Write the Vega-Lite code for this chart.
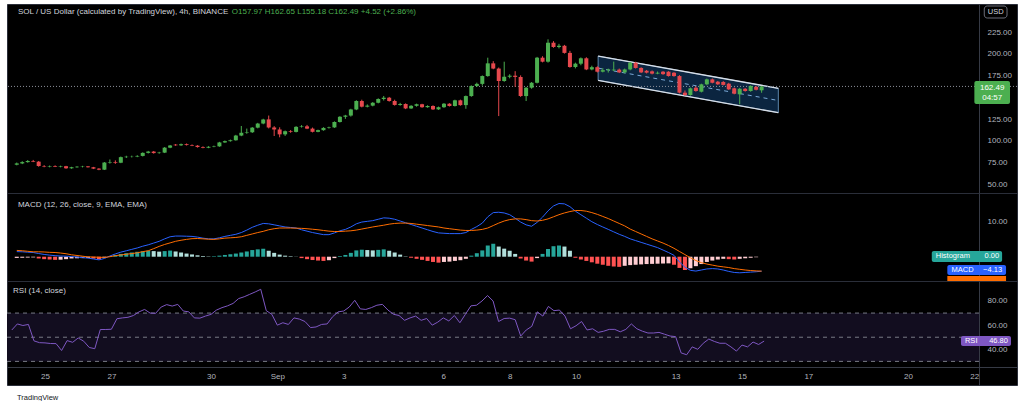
{
"$schema":"https://vega.github.io/schema/vega-lite/v6.json",
"background":"#ffffff",
"padding":{"left":6,"top":3,"right":8,"bottom":0},
"config":{"font":"Liberation Sans","view":{"fill":"#000000","stroke":"#2a2e39","strokeWidth":1},"axis":{"grid":false,"ticks":false,"domainColor":"#363a45","labelColor":"#b2b5be","labelFontSize":8,"labelFont":"Liberation Sans","labelOverlap":false}},
"title":{"text":"TradingView","orient":"bottom","anchor":"start","fontSize":7.5,"font":"Liberation Sans","color":"#131722","fontWeight":"normal","offset":8,"dx":11,"baseline":"top"},
"datasets":{
"k":[
{"t":"2021-08-24T00:00:00Z","o":72.5,"h":75,"l":71.8,"c":74,"hi":-0.35,"m":1.45,"s":1.8,"r":56},
{"t":"2021-08-24T04:00:00Z","o":74,"h":76.5,"l":73.2,"c":75.5,"hi":-0.3,"m":1.4,"s":1.7,"r":61},
{"t":"2021-08-24T08:00:00Z","o":75.5,"h":77.8,"l":74.8,"c":76.8,"hi":-0.25,"m":1.3,"s":1.55,"r":59.7},
{"t":"2021-08-24T12:00:00Z","o":76.8,"h":78,"l":75.5,"c":76,"hi":-0.2,"m":1.2,"s":1.4,"r":60.6},
{"t":"2021-08-24T16:00:00Z","o":76,"h":76.8,"l":70.2,"c":71,"hi":-0.5,"m":0.9,"s":1.4,"r":47},
{"t":"2021-08-24T20:00:00Z","o":71,"h":72,"l":69.6,"c":70.4,"hi":-0.7,"m":0.65,"s":1.35,"r":45.5},
{"t":"2021-08-25T00:00:00Z","o":70.4,"h":71.6,"l":69.5,"c":71,"hi":-0.8,"m":0.45,"s":1.25,"r":45.3},
{"t":"2021-08-25T04:00:00Z","o":71,"h":71.8,"l":69.8,"c":70.2,"hi":-0.9,"m":0.3,"s":1.2,"r":44.8},
{"t":"2021-08-25T08:00:00Z","o":70.2,"h":71.4,"l":69.5,"c":70.8,"hi":-0.85,"m":0.2,"s":1.05,"r":44.7},
{"t":"2021-08-25T12:00:00Z","o":70.8,"h":71.2,"l":67.8,"c":68.4,"hi":-0.7,"m":0.15,"s":0.85,"r":39},
{"t":"2021-08-25T16:00:00Z","o":68.4,"h":70.1,"l":67.9,"c":69.6,"hi":-0.5,"m":0.05,"s":0.55,"r":47.2},
{"t":"2021-08-25T20:00:00Z","o":69.6,"h":70.9,"l":69,"c":70.2,"hi":-0.45,"m":-0.1,"s":0.35,"r":45.8},
{"t":"2021-08-26T00:00:00Z","o":70.2,"h":71.2,"l":69.4,"c":70.6,"hi":-0.4,"m":-0.25,"s":0.15,"r":49.4},
{"t":"2021-08-26T04:00:00Z","o":70.6,"h":71,"l":69.2,"c":69.6,"hi":-0.35,"m":-0.4,"s":-0.05,"r":46.7},
{"t":"2021-08-26T08:00:00Z","o":69.6,"h":70,"l":67.5,"c":68,"hi":-0.55,"m":-0.65,"s":-0.1,"r":41.5},
{"t":"2021-08-26T12:00:00Z","o":68,"h":68.6,"l":66.2,"c":66.8,"hi":-0.75,"m":-0.9,"s":-0.15,"r":40.5},
{"t":"2021-08-26T16:00:00Z","o":66.8,"h":75.6,"l":66.4,"c":75,"hi":-0.3,"m":-0.5,"s":-0.2,"r":56.4},
{"t":"2021-08-26T20:00:00Z","o":75,"h":78.5,"l":73.8,"c":75.6,"hi":0.2,"m":0.2,"s":0,"r":56.4},
{"t":"2021-08-27T00:00:00Z","o":75.6,"h":77.5,"l":73.5,"c":74.8,"hi":0.5,"m":0.8,"s":0.3,"r":56.6},
{"t":"2021-08-27T04:00:00Z","o":74.8,"h":81.9,"l":74.3,"c":81.2,"hi":0.8,"m":1.3,"s":0.5,"r":65.3},
{"t":"2021-08-27T08:00:00Z","o":81.2,"h":82.8,"l":80.2,"c":81.7,"hi":1.0,"m":1.7,"s":0.7,"r":66},
{"t":"2021-08-27T12:00:00Z","o":81.7,"h":82.9,"l":80.8,"c":81.9,"hi":1.2,"m":2.1,"s":0.9,"r":66.5},
{"t":"2021-08-27T16:00:00Z","o":81.9,"h":83.4,"l":81.2,"c":82.6,"hi":1.4,"m":2.5,"s":1.1,"r":68},
{"t":"2021-08-27T20:00:00Z","o":82.6,"h":86.7,"l":82,"c":86.1,"hi":1.55,"m":3.0,"s":1.45,"r":71},
{"t":"2021-08-28T00:00:00Z","o":86.1,"h":88.4,"l":85.4,"c":87.6,"hi":1.7,"m":3.4,"s":1.7,"r":73},
{"t":"2021-08-28T04:00:00Z","o":87.6,"h":88.3,"l":85.2,"c":85.9,"hi":1.6,"m":3.9,"s":2.3,"r":70},
{"t":"2021-08-28T08:00:00Z","o":85.9,"h":87.3,"l":85.1,"c":86.4,"hi":1.45,"m":4.4,"s":2.95,"r":69.8},
{"t":"2021-08-28T12:00:00Z","o":86.4,"h":92.8,"l":85.9,"c":92.1,"hi":1.6,"m":5.1,"s":3.5,"r":75},
{"t":"2021-08-28T16:00:00Z","o":92.1,"h":95.2,"l":91.5,"c":94.6,"hi":1.75,"m":5.7,"s":3.95,"r":77},
{"t":"2021-08-28T20:00:00Z","o":95.6,"h":96.3,"l":94.2,"c":94.8,"hi":1.5,"m":5.9,"s":4.4,"r":75.8},
{"t":"2021-08-29T00:00:00Z","o":94.8,"h":96.8,"l":94.1,"c":96.1,"hi":1.2,"m":5.9,"s":4.7,"r":77.2},
{"t":"2021-08-29T04:00:00Z","o":96.1,"h":96.9,"l":94.6,"c":95.1,"hi":0.9,"m":5.85,"s":4.95,"r":71.7},
{"t":"2021-08-29T08:00:00Z","o":95.1,"h":95.8,"l":93.9,"c":94.4,"hi":0.65,"m":5.8,"s":5.15,"r":71},
{"t":"2021-08-29T12:00:00Z","o":94.4,"h":95,"l":92.2,"c":92.8,"hi":0.4,"m":5.6,"s":5.2,"r":66},
{"t":"2021-08-29T16:00:00Z","o":92.8,"h":93.6,"l":91.4,"c":92,"hi":0.2,"m":5.3,"s":5.1,"r":65.8},
{"t":"2021-08-29T20:00:00Z","o":92,"h":93.8,"l":91.5,"c":93.1,"hi":0.1,"m":5.1,"s":5.0,"r":67.5},
{"t":"2021-08-30T00:00:00Z","o":93.1,"h":94.4,"l":92.6,"c":93.6,"hi":0.15,"m":5.1,"s":4.95,"r":68.9},
{"t":"2021-08-30T04:00:00Z","o":93.6,"h":98.8,"l":93.1,"c":98.1,"hi":0.3,"m":5.4,"s":5.1,"r":72.5},
{"t":"2021-08-30T08:00:00Z","o":98.1,"h":100.3,"l":97.6,"c":99.6,"hi":0.5,"m":5.8,"s":5.3,"r":74.5},
{"t":"2021-08-30T12:00:00Z","o":99.6,"h":101.4,"l":99,"c":100.6,"hi":0.7,"m":6.1,"s":5.4,"r":76},
{"t":"2021-08-30T16:00:00Z","o":100.6,"h":106.8,"l":100.1,"c":106,"hi":0.9,"m":6.4,"s":5.5,"r":78},
{"t":"2021-08-30T20:00:00Z","o":106,"h":117,"l":105.3,"c":109.2,"hi":1.2,"m":6.9,"s":5.7,"r":82},
{"t":"2021-08-31T00:00:00Z","o":109.2,"h":114,"l":108.1,"c":109.8,"hi":1.5,"m":7.6,"s":6.1,"r":83.5},
{"t":"2021-08-31T04:00:00Z","o":109.8,"h":115.8,"l":109,"c":115.1,"hi":1.9,"m":8.4,"s":6.5,"r":85.5},
{"t":"2021-08-31T08:00:00Z","o":115.1,"h":120.6,"l":114.3,"c":119.8,"hi":2.1,"m":9.0,"s":6.9,"r":87.5},
{"t":"2021-08-31T12:00:00Z","o":119.8,"h":125.3,"l":119,"c":124.6,"hi":2.25,"m":9.5,"s":7.25,"r":89.7},
{"t":"2021-08-31T16:00:00Z","o":124.6,"h":129,"l":114.2,"c":115.3,"hi":1.7,"m":9.4,"s":7.7,"r":72},
{"t":"2021-08-31T20:00:00Z","o":115.3,"h":116.8,"l":105.5,"c":113,"hi":1.1,"m":9.1,"s":8.0,"r":69},
{"t":"2021-09-01T00:00:00Z","o":113,"h":115.5,"l":104,"c":107.4,"hi":0.6,"m":8.8,"s":8.2,"r":60},
{"t":"2021-09-01T04:00:00Z","o":107.4,"h":111.8,"l":105.6,"c":111,"hi":0.3,"m":8.5,"s":8.2,"r":62},
{"t":"2021-09-01T08:00:00Z","o":111,"h":112.3,"l":109.2,"c":110.2,"hi":0.15,"m":8.35,"s":8.2,"r":60.6},
{"t":"2021-09-01T12:00:00Z","o":110.2,"h":116.8,"l":109.6,"c":116,"hi":0.05,"m":8.2,"s":8.15,"r":66},
{"t":"2021-09-01T16:00:00Z","o":116,"h":118,"l":115.2,"c":116.6,"hi":-0.4,"m":7.7,"s":8.1,"r":65},
{"t":"2021-09-01T20:00:00Z","o":116.6,"h":118.2,"l":113.4,"c":114,"hi":-0.7,"m":7.3,"s":8.0,"r":63},
{"t":"2021-09-02T00:00:00Z","o":114,"h":115.2,"l":109.6,"c":110.3,"hi":-0.95,"m":6.9,"s":7.85,"r":58},
{"t":"2021-09-02T04:00:00Z","o":110.3,"h":112.8,"l":109.8,"c":112.2,"hi":-1.1,"m":6.6,"s":7.7,"r":58.5},
{"t":"2021-09-02T08:00:00Z","o":112.2,"h":115.6,"l":111.6,"c":114.8,"hi":-1.2,"m":6.3,"s":7.5,"r":60.6},
{"t":"2021-09-02T12:00:00Z","o":114.8,"h":116.2,"l":114,"c":115.4,"hi":-1.0,"m":6.3,"s":7.3,"r":61},
{"t":"2021-09-02T16:00:00Z","o":115.4,"h":122.3,"l":114.8,"c":121.6,"hi":-0.4,"m":6.8,"s":7.2,"r":67},
{"t":"2021-09-02T20:00:00Z","o":121.6,"h":128.3,"l":121,"c":127.6,"hi":0.2,"m":7.4,"s":7.2,"r":71},
{"t":"2021-09-03T00:00:00Z","o":127.6,"h":129.8,"l":125.2,"c":129,"hi":0.5,"m":7.8,"s":7.3,"r":71.7},
{"t":"2021-09-03T04:00:00Z","o":129,"h":136.8,"l":127.8,"c":136,"hi":1.1,"m":8.5,"s":7.4,"r":75},
{"t":"2021-09-03T08:00:00Z","o":136,"h":146.6,"l":135.2,"c":145.7,"hi":1.8,"m":9.4,"s":7.6,"r":80.6},
{"t":"2021-09-03T12:00:00Z","o":145.7,"h":147.2,"l":138.4,"c":139.2,"hi":2.0,"m":9.9,"s":7.9,"r":73.5},
{"t":"2021-09-03T16:00:00Z","o":139.2,"h":141.8,"l":138.4,"c":140.4,"hi":1.9,"m":10.1,"s":8.2,"r":73},
{"t":"2021-09-03T20:00:00Z","o":140.4,"h":144.5,"l":139.6,"c":143.7,"hi":1.8,"m":10.3,"s":8.5,"r":74.5},
{"t":"2021-09-04T00:00:00Z","o":143.7,"h":148.8,"l":143,"c":148,"hi":1.95,"m":10.7,"s":8.75,"r":76.5},
{"t":"2021-09-04T04:00:00Z","o":148,"h":151.5,"l":146.3,"c":149.5,"hi":2.1,"m":11.1,"s":9.0,"r":77.2},
{"t":"2021-09-04T08:00:00Z","o":149.5,"h":150.4,"l":145,"c":145.7,"hi":1.7,"m":11.0,"s":9.3,"r":72.5},
{"t":"2021-09-04T12:00:00Z","o":145.7,"h":147.2,"l":140.4,"c":141.2,"hi":1.2,"m":10.7,"s":9.5,"r":69},
{"t":"2021-09-04T16:00:00Z","o":141.2,"h":143.6,"l":140.3,"c":142.3,"hi":0.6,"m":10.2,"s":9.6,"r":68},
{"t":"2021-09-04T20:00:00Z","o":142.3,"h":143,"l":136.4,"c":137.2,"hi":0.1,"m":9.7,"s":9.6,"r":64},
{"t":"2021-09-05T00:00:00Z","o":137.2,"h":141,"l":136.6,"c":140.2,"hi":-0.3,"m":9.2,"s":9.5,"r":66},
{"t":"2021-09-05T04:00:00Z","o":140.2,"h":142.7,"l":139.2,"c":142,"hi":-0.6,"m":8.7,"s":9.3,"r":67.5},
{"t":"2021-09-05T08:00:00Z","o":142,"h":142.5,"l":137.9,"c":138.6,"hi":-0.9,"m":8.2,"s":9.1,"r":64},
{"t":"2021-09-05T12:00:00Z","o":138.6,"h":140.8,"l":138,"c":140,"hi":-1.2,"m":7.7,"s":8.9,"r":65.5},
{"t":"2021-09-05T16:00:00Z","o":140,"h":140.8,"l":135.4,"c":136.1,"hi":-1.5,"m":7.2,"s":8.7,"r":60},
{"t":"2021-09-05T20:00:00Z","o":136.1,"h":139.3,"l":135.5,"c":138.6,"hi":-1.7,"m":6.8,"s":8.5,"r":62.5},
{"t":"2021-09-06T00:00:00Z","o":138.6,"h":143.4,"l":137.8,"c":142.6,"hi":-1.5,"m":6.7,"s":8.2,"r":66},
{"t":"2021-09-06T04:00:00Z","o":142.6,"h":143.2,"l":139.4,"c":140,"hi":-1.4,"m":6.6,"s":8.0,"r":63.5},
{"t":"2021-09-06T08:00:00Z","o":140,"h":147.2,"l":139.4,"c":146.5,"hi":-1.2,"m":6.6,"s":7.8,"r":68},
{"t":"2021-09-06T12:00:00Z","o":146.5,"h":147.3,"l":140.3,"c":141,"hi":-1.0,"m":6.6,"s":7.6,"r":62},
{"t":"2021-09-06T16:00:00Z","o":141,"h":152,"l":136.8,"c":151.4,"hi":-0.6,"m":6.9,"s":7.5,"r":69},
{"t":"2021-09-06T20:00:00Z","o":151.4,"h":163.7,"l":150.6,"c":163,"hi":0.3,"m":7.8,"s":7.5,"r":76},
{"t":"2021-09-07T00:00:00Z","o":163,"h":166.8,"l":161.8,"c":165.4,"hi":1.0,"m":8.6,"s":7.6,"r":76.5},
{"t":"2021-09-07T04:00:00Z","o":165.4,"h":175.1,"l":163.4,"c":174.4,"hi":1.8,"m":9.6,"s":7.8,"r":80},
{"t":"2021-09-07T08:00:00Z","o":174.4,"h":195.5,"l":173.6,"c":189,"hi":3.2,"m":11.4,"s":8.2,"r":84.5},
{"t":"2021-09-07T12:00:00Z","o":189,"h":191.5,"l":182.2,"c":183,"hi":3.7,"m":12.6,"s":8.9,"r":80},
{"t":"2021-09-07T16:00:00Z","o":183,"h":184.2,"l":128.4,"c":168.7,"hi":2.9,"m":12.7,"s":9.6,"r":63},
{"t":"2021-09-07T20:00:00Z","o":168.7,"h":190.9,"l":167.8,"c":173.6,"hi":2.3,"m":12.5,"s":10.2,"r":65.5},
{"t":"2021-09-08T00:00:00Z","o":173.6,"h":176.5,"l":171.8,"c":174.8,"hi":1.7,"m":12.0,"s":10.6,"r":65.8},
{"t":"2021-09-08T04:00:00Z","o":174.8,"h":180,"l":162,"c":173.4,"hi":0.8,"m":11.0,"s":10.8,"r":64.5},
{"t":"2021-09-08T08:00:00Z","o":173.4,"h":175.2,"l":150.4,"c":151.4,"hi":-0.5,"m":9.9,"s":10.8,"r":51},
{"t":"2021-09-08T12:00:00Z","o":151.4,"h":161.8,"l":145.7,"c":161,"hi":-1.1,"m":9.1,"s":10.6,"r":56},
{"t":"2021-09-08T16:00:00Z","o":161,"h":167.5,"l":159.8,"c":166.7,"hi":-1.4,"m":8.7,"s":10.3,"r":59},
{"t":"2021-09-08T20:00:00Z","o":166.7,"h":196.4,"l":165.9,"c":195.5,"hi":-0.4,"m":9.8,"s":10.2,"r":71},
{"t":"2021-09-09T00:00:00Z","o":195.5,"h":197.2,"l":190.1,"c":190.9,"hi":0.8,"m":11.3,"s":10.4,"r":67.5},
{"t":"2021-09-09T04:00:00Z","o":190.9,"h":216.6,"l":189.8,"c":212.7,"hi":2.2,"m":13.1,"s":10.8,"r":75.5},
{"t":"2021-09-09T08:00:00Z","o":212.7,"h":214.5,"l":206.9,"c":207.8,"hi":3.0,"m":14.5,"s":11.4,"r":72},
{"t":"2021-09-09T12:00:00Z","o":207.8,"h":211.4,"l":206.2,"c":209.2,"hi":3.2,"m":15.2,"s":12.0,"r":72.5},
{"t":"2021-09-09T16:00:00Z","o":209.2,"h":210.2,"l":200.2,"c":201,"hi":2.9,"m":15.1,"s":12.5,"r":67.5},
{"t":"2021-09-09T20:00:00Z","o":201,"h":203.4,"l":184,"c":184.8,"hi":1.7,"m":14.3,"s":12.9,"r":57},
{"t":"2021-09-10T00:00:00Z","o":184.8,"h":189.8,"l":183.2,"c":188.6,"hi":-0.3,"m":13.0,"s":13.2,"r":59.5},
{"t":"2021-09-10T04:00:00Z","o":188.6,"h":195.8,"l":186.8,"c":194.8,"hi":-0.8,"m":12.0,"s":13.2,"r":63},
{"t":"2021-09-10T08:00:00Z","o":194.8,"h":196,"l":181.2,"c":182,"hi":-1.2,"m":11.0,"s":13.0,"r":56},
{"t":"2021-09-10T12:00:00Z","o":182,"h":186.3,"l":181,"c":184.6,"hi":-1.6,"m":10.0,"s":12.6,"r":57},
{"t":"2021-09-10T16:00:00Z","o":184.6,"h":185.7,"l":178.5,"c":179.4,"hi":-2.0,"m":9.2,"s":12.1,"r":54},
{"t":"2021-09-10T20:00:00Z","o":179.4,"h":183.6,"l":178.6,"c":181.2,"hi":-2.3,"m":8.5,"s":11.5,"r":55},
{"t":"2021-09-11T00:00:00Z","o":181.2,"h":182.9,"l":178.4,"c":182,"hi":-2.6,"m":7.8,"s":10.9,"r":56.5},
{"t":"2021-09-11T04:00:00Z","o":181,"h":191,"l":180,"c":181.8,"hi":-2.8,"m":7.1,"s":10.2,"r":56.5},
{"t":"2021-09-11T08:00:00Z","o":181.8,"h":183,"l":177.8,"c":178.6,"hi":-2.9,"m":6.4,"s":9.5,"r":54.5},
{"t":"2021-09-11T12:00:00Z","o":178.6,"h":183,"l":177.6,"c":182,"hi":-2.6,"m":5.8,"s":8.8,"r":56.5},
{"t":"2021-09-11T16:00:00Z","o":182,"h":190.6,"l":181,"c":189.7,"hi":-2.4,"m":5.1,"s":7.9,"r":61},
{"t":"2021-09-11T20:00:00Z","o":189.7,"h":190.8,"l":183,"c":183.7,"hi":-2.3,"m":4.6,"s":7.2,"r":57},
{"t":"2021-09-12T00:00:00Z","o":183.7,"h":184.5,"l":177.8,"c":178.6,"hi":-2.2,"m":4.1,"s":6.5,"r":55},
{"t":"2021-09-12T04:00:00Z","o":180.5,"h":181.4,"l":177.4,"c":178.3,"hi":-2.1,"m":3.6,"s":5.8,"r":53.5},
{"t":"2021-09-12T08:00:00Z","o":179.8,"h":180.8,"l":176.3,"c":177.2,"hi":-2.05,"m":3.1,"s":5.1,"r":53.5},
{"t":"2021-09-12T12:00:00Z","o":177.2,"h":179.6,"l":176.5,"c":178.2,"hi":-2.0,"m":2.6,"s":4.5,"r":54},
{"t":"2021-09-12T16:00:00Z","o":179.4,"h":180.2,"l":175.8,"c":176.6,"hi":-1.95,"m":1.9,"s":3.9,"r":52.5},
{"t":"2021-09-12T20:00:00Z","o":179.4,"h":180,"l":173.8,"c":174.4,"hi":-1.9,"m":1.2,"s":3.2,"r":51},
{"t":"2021-09-13T00:00:00Z","o":178.2,"h":179,"l":173.6,"c":174.4,"hi":-2.3,"m":0.4,"s":2.4,"r":50.5},
{"t":"2021-09-13T04:00:00Z","o":174.4,"h":175.5,"l":154.5,"c":155.3,"hi":-3.2,"m":-1.5,"s":1.5,"r":37},
{"t":"2021-09-13T08:00:00Z","o":155.3,"h":157.8,"l":151.6,"c":152.6,"hi":-3.8,"m":-3.0,"s":0.6,"r":35.5},
{"t":"2021-09-13T12:00:00Z","o":152.6,"h":161.2,"l":151.8,"c":160.3,"hi":-3.3,"m":-3.9,"s":-0.3,"r":42},
{"t":"2021-09-13T16:00:00Z","o":161,"h":162.6,"l":156.4,"c":157.2,"hi":-2.7,"m":-4.1,"s":-1.1,"r":40},
{"t":"2021-09-13T20:00:00Z","o":156.4,"h":165.6,"l":155.6,"c":164.9,"hi":-2.1,"m":-3.8,"s":-1.7,"r":45},
{"t":"2021-09-14T00:00:00Z","o":164.9,"h":171.5,"l":163.8,"c":170.6,"hi":-1.5,"m":-3.5,"s":-2.1,"r":48.5},
{"t":"2021-09-14T04:00:00Z","o":170.6,"h":171.6,"l":166,"c":166.7,"hi":-1.1,"m":-3.4,"s":-2.4,"r":46.5},
{"t":"2021-09-14T08:00:00Z","o":167.9,"h":168.8,"l":164.2,"c":164.9,"hi":-0.8,"m":-3.5,"s":-2.7,"r":45},
{"t":"2021-09-14T12:00:00Z","o":167.6,"h":168.6,"l":163.6,"c":164.2,"hi":-0.6,"m":-3.8,"s":-2.9,"r":45},
{"t":"2021-09-14T16:00:00Z","o":165.6,"h":166.6,"l":158.5,"c":159.1,"hi":-0.7,"m":-4.2,"s":-3.1,"r":42},
{"t":"2021-09-14T20:00:00Z","o":160.3,"h":161.2,"l":153.4,"c":154.1,"hi":-0.8,"m":-4.5,"s":-3.4,"r":38.5},
{"t":"2021-09-15T00:00:00Z","o":153.4,"h":160.8,"l":141.9,"c":159.8,"hi":-0.6,"m":-4.6,"s":-3.6,"r":43.5},
{"t":"2021-09-15T04:00:00Z","o":159.8,"h":160.6,"l":156.5,"c":157.2,"hi":-0.45,"m":-4.5,"s":-3.8,"r":42},
{"t":"2021-09-15T08:00:00Z","o":157.2,"h":163.8,"l":156.4,"c":163,"hi":-0.3,"m":-4.4,"s":-3.95,"r":46},
{"t":"2021-09-15T12:00:00Z","o":162,"h":163.1,"l":157.9,"c":158.6,"hi":-0.15,"m":-4.3,"s":-4.05,"r":44},
{"t":"2021-09-15T16:00:00Z","o":157.97,"h":162.65,"l":155.18,"c":162.49,"hi":0,"m":-4.13,"s":-4.13,"r":46.8}
],
"ch":[{"t":"2021-09-10T16:36:00Z","top":197.4,"mid":183.45,"bot":169.5},{"t":"2021-09-16T04:12:00Z","top":160.3,"mid":146.3,"bot":132.3}],
"lv":[{"v":70},{"v":50},{"v":30}],
"one":[{}]
},
"data":{"name":"k"},
"spacing":0,
"bounds":"flush",
"resolve":{"scale":{"x":"independent","y":"independent"}},
"vconcat":[
{"width":1010,"height":189,"resolve":{"scale":{"y":"independent"},"axis":{"y":"independent"}},"layer":[
{"layer":[
{"data":{"name":"ch"},"mark":{"type":"area","fill":"#0b2540","stroke":"#5d86ad","strokeWidth":1},"encoding":{"x":{"field":"t","type":"temporal","scale":{"type":"utc","domain":[{"year":2021,"month":8,"date":23,"hours":20,"minutes":31,"utc":true},{"year":2021,"month":9,"date":23,"hours":6,"minutes":52,"utc":true}]},"axis":null},"y":{"field":"top","type":"quantitative","scale":{"domain":[40,257.2],"nice":false,"zero":false},"axis":null},"y2":{"field":"bot"}}},
{"data":{"name":"ch"},"mark":{"type":"line","color":"#d8dee6","strokeWidth":1.3},"encoding":{"x":{"field":"t","type":"temporal"},"y":{"field":"top","type":"quantitative"}}},
{"data":{"name":"ch"},"mark":{"type":"line","color":"#d8dee6","strokeWidth":1.3},"encoding":{"x":{"field":"t","type":"temporal"},"y":{"field":"bot","type":"quantitative"}}},
{"data":{"name":"ch"},"mark":{"type":"line","color":"#7aa9d8","strokeWidth":1,"strokeDash":[4,4]},"encoding":{"x":{"field":"t","type":"temporal"},"y":{"field":"mid","type":"quantitative"}}},
{"data":{"name":"one"},"mark":{"type":"rule","color":"#8c8f99","strokeDash":[1,2],"strokeWidth":1},"encoding":{"y":{"datum":162.49,"type":"quantitative"}}},
{"mark":{"type":"rule","strokeWidth":1},"encoding":{"x":{"field":"t","type":"temporal"},"y":{"field":"l","type":"quantitative"},"y2":{"field":"h"},"color":{"condition":{"test":"datum.c >= datum.o","value":"#4caf50"},"value":"#e5484d"}}},
{"mark":{"type":"bar","width":4},"encoding":{"x":{"field":"t","type":"temporal"},"y":{"field":"o","type":"quantitative"},"y2":{"field":"c"},"color":{"condition":{"test":"datum.c >= datum.o","value":"#4caf50"},"value":"#e5484d"}}},
{"data":{"name":"one"},"mark":{"type":"rect","color":"#4caf50","cornerRadius":2},"encoding":{"x":{"datum":{"year":2021,"month":9,"date":22,"hours":3,"minutes":23,"utc":true},"type":"temporal"},"x2":{"datum":{"year":2021,"month":9,"date":23,"hours":5,"minutes":25,"utc":true}},"y":{"datum":168.7,"type":"quantitative"},"y2":{"datum":142.3}}},
{"data":{"name":"one"},"mark":{"type":"text","text":"162.49","color":"#ffffff","fontSize":8,"align":"center","baseline":"middle"},"encoding":{"x":{"datum":{"year":2021,"month":9,"date":22,"hours":16,"minutes":24,"utc":true},"type":"temporal"},"y":{"datum":160.65,"type":"quantitative"}}},
{"data":{"name":"one"},"mark":{"type":"text","text":"04:57","color":"#ffffff","fontSize":8,"align":"center","baseline":"middle"},"encoding":{"x":{"datum":{"year":2021,"month":9,"date":22,"hours":16,"minutes":24,"utc":true},"type":"temporal"},"y":{"datum":149.2,"type":"quantitative"}}},
{"data":{"name":"one"},"mark":{"type":"rect","fill":"#000000","stroke":"#6a6d78","strokeWidth":1,"cornerRadius":3},"encoding":{"x":{"datum":{"year":2021,"month":9,"date":22,"hours":10,"minutes":37,"utc":true},"type":"temporal"},"x2":{"datum":{"year":2021,"month":9,"date":23,"hours":3,"minutes":14,"utc":true}},"y":{"datum":254.9,"type":"quantitative"},"y2":{"datum":241.1}}},
{"data":{"name":"one"},"mark":{"type":"text","text":"USD","color":"#d1d4dc","fontSize":7.5,"align":"center","baseline":"middle"},"encoding":{"x":{"datum":{"year":2021,"month":9,"date":22,"hours":18,"minutes":55,"utc":true},"type":"temporal"},"y":{"datum":248,"type":"quantitative"}}},
{"data":{"name":"one"},"mark":{"type":"text","text":"SOL / US Dollar (calculated by TradingView), 4h, BINANCE","color":"#d1d4dc","fontSize":8,"align":"left","baseline":"middle"},"encoding":{"x":{"datum":{"year":2021,"month":8,"date":24,"hours":0,"minutes":52,"utc":true},"type":"temporal"},"y":{"datum":248,"type":"quantitative"}}},
{"data":{"name":"one"},"mark":{"type":"text","text":"O157.97  H162.65  L155.18  C162.49  +4.52 (+2.86%)","color":"#4caf50","fontSize":8,"align":"left","baseline":"middle"},"encoding":{"x":{"datum":{"year":2021,"month":8,"date":30,"hours":13,"minutes":3,"utc":true},"type":"temporal"},"y":{"datum":248,"type":"quantitative"}}}
]},
{"data":{"name":"one"},"mark":{"type":"rule","opacity":0},"encoding":{"y":{"datum":100,"type":"quantitative","scale":{"domain":[40,257.2],"nice":false,"zero":false},"axis":{"title":null,"orient":"right","offset":-38,"values":[50,75,100,125,175,200,225],"format":".2f","labelPadding":8,"labelAlign":"left","labelBaseline":"middle","labelOverlap":false}}}}
]},
{"width":1010,"height":88,"layer":[
{"transform":[{"window":[{"op":"lag","field":"hi","as":"ph"}],"sort":[{"field":"t"}]},{"calculate":"datum.hi >= 0 ? ((datum.ph == null || datum.hi >= datum.ph) ? 'a' : 'b') : ((datum.ph != null && datum.hi < datum.ph) ? 'c' : 'd')","as":"hk"}],"mark":{"type":"bar","width":4},"encoding":{"x":{"field":"t","type":"temporal","scale":{"type":"utc","domain":[{"year":2021,"month":8,"date":23,"hours":20,"minutes":31,"utc":true},{"year":2021,"month":9,"date":23,"hours":6,"minutes":52,"utc":true}]},"axis":null},"y":{"field":"hi","type":"quantitative","stack":null,"scale":{"domain":[-6.94,18.2],"nice":false,"zero":false},"axis":{"title":null,"orient":"right","offset":-38,"values":[10],"format":".2f","labelPadding":8,"labelAlign":"left","labelOverlap":false}},"y2":{"datum":0},"color":{"field":"hk","type":"nominal","scale":{"domain":["a","b","c","d"],"range":["#26a69a","#b2dfdb","#ff5252","#ffcdd2"]},"legend":null}}},
{"mark":{"type":"line","color":"#2962ff","strokeWidth":1},"encoding":{"x":{"field":"t","type":"temporal"},"y":{"field":"m","type":"quantitative"}}},
{"mark":{"type":"line","color":"#ff6d00","strokeWidth":1},"encoding":{"x":{"field":"t","type":"temporal"},"y":{"field":"s","type":"quantitative"}}},
{"data":{"name":"one"},"mark":{"type":"rect","color":"#26a69a","cornerRadius":2},"encoding":{"x":{"datum":{"year":2021,"month":9,"date":20,"hours":20,"minutes":17,"utc":true},"type":"temporal"},"x2":{"datum":{"year":2021,"month":9,"date":22,"hours":23,"minutes":38,"utc":true}},"y":{"datum":1.63,"type":"quantitative"},"y2":{"datum":-1.51}}},
{"data":{"name":"one"},"mark":{"type":"text","text":"Histogram","color":"#ffffff","fontSize":7.5,"align":"left","baseline":"middle"},"encoding":{"x":{"datum":{"year":2021,"month":9,"date":20,"hours":23,"minutes":11,"utc":true},"type":"temporal"},"y":{"datum":0.06,"type":"quantitative"}}},
{"data":{"name":"one"},"mark":{"type":"text","text":"0.00","color":"#ffffff","fontSize":7.5,"align":"right","baseline":"middle"},"encoding":{"x":{"datum":{"year":2021,"month":9,"date":22,"hours":21,"minutes":27,"utc":true},"type":"temporal"},"y":{"datum":0.06,"type":"quantitative"}}},
{"data":{"name":"one"},"mark":{"type":"rect","color":"#ff6d00"},"encoding":{"x":{"datum":{"year":2021,"month":9,"date":21,"hours":7,"minutes":38,"utc":true},"type":"temporal"},"x2":{"datum":{"year":2021,"month":9,"date":23,"hours":2,"minutes":31,"utc":true}},"y":{"datum":-5.51,"type":"quantitative"},"y2":{"datum":-7.2}}},
{"data":{"name":"one"},"mark":{"type":"rect","color":"#2962ff","cornerRadius":2},"encoding":{"x":{"datum":{"year":2021,"month":9,"date":21,"hours":7,"minutes":38,"utc":true},"type":"temporal"},"x2":{"datum":{"year":2021,"month":9,"date":23,"hours":2,"minutes":31,"utc":true}},"y":{"datum":-2.37,"type":"quantitative"},"y2":{"datum":-5.23}}},
{"data":{"name":"one"},"mark":{"type":"text","text":"MACD","color":"#ffffff","fontSize":7.5,"align":"left","baseline":"middle"},"encoding":{"x":{"datum":{"year":2021,"month":9,"date":21,"hours":10,"minutes":43,"utc":true},"type":"temporal"},"y":{"datum":-3.8,"type":"quantitative"}}},
{"data":{"name":"one"},"mark":{"type":"text","text":"−4.13","color":"#ffffff","fontSize":7.5,"align":"right","baseline":"middle"},"encoding":{"x":{"datum":{"year":2021,"month":9,"date":22,"hours":23,"minutes":38,"utc":true},"type":"temporal"},"y":{"datum":-3.8,"type":"quantitative"}}},
{"data":{"name":"one"},"mark":{"type":"text","text":"MACD (12, 26, close, 9, EMA, EMA)","color":"#d1d4dc","fontSize":8,"align":"left","baseline":"middle"},"encoding":{"x":{"datum":{"year":2021,"month":8,"date":24,"hours":0,"minutes":52,"utc":true},"type":"temporal"},"y":{"datum":14.8,"type":"quantitative"}}}
]},
{"width":1010,"height":104,"layer":[
{"data":{"name":"one"},"mark":{"type":"rect","color":"#120d1f"},"encoding":{"x":{"datum":{"year":2021,"month":8,"date":23,"hours":20,"minutes":31,"utc":true},"type":"temporal"},"x2":{"datum":{"year":2021,"month":9,"date":22,"hours":3,"minutes":23,"utc":true}},"y":{"datum":70,"type":"quantitative"},"y2":{"datum":30}}},
{"data":{"name":"lv"},"mark":{"type":"rule","color":"#787b86","strokeDash":[4,4],"strokeWidth":1},"encoding":{"x":{"datum":{"year":2021,"month":8,"date":23,"hours":20,"minutes":31,"utc":true},"type":"temporal"},"x2":{"datum":{"year":2021,"month":9,"date":22,"hours":3,"minutes":23,"utc":true}},"y":{"field":"v","type":"quantitative"}}},
{"mark":{"type":"line","color":"#7e57c2","strokeWidth":1},"encoding":{"x":{"field":"t","type":"temporal","scale":{"type":"utc","domain":[{"year":2021,"month":8,"date":23,"hours":20,"minutes":31,"utc":true},{"year":2021,"month":9,"date":23,"hours":6,"minutes":52,"utc":true}]},"axis":{"title":null,"orient":"bottom","offset":-18,"values":[{"year":2021,"month":8,"date":25,"utc":true},{"year":2021,"month":8,"date":27,"utc":true},{"year":2021,"month":8,"date":30,"utc":true},{"year":2021,"month":9,"date":1,"utc":true},{"year":2021,"month":9,"date":3,"utc":true},{"year":2021,"month":9,"date":6,"utc":true},{"year":2021,"month":9,"date":8,"utc":true},{"year":2021,"month":9,"date":10,"utc":true},{"year":2021,"month":9,"date":13,"utc":true},{"year":2021,"month":9,"date":15,"utc":true},{"year":2021,"month":9,"date":17,"utc":true},{"year":2021,"month":9,"date":20,"utc":true},{"year":2021,"month":9,"date":22,"utc":true}],"labelExpr":"utcdate(datum.value) == 1 ? 'Sep' : '' + utcdate(datum.value)","labelPadding":5,"labelFlush":false,"labelOverlap":false,"labelBaseline":"top"}},"y":{"field":"r","type":"quantitative","scale":{"domain":[10.44,96.56],"nice":false,"zero":false},"axis":{"title":null,"orient":"right","offset":-38,"values":[40,60,80],"format":".2f","labelPadding":8,"labelAlign":"left","labelOverlap":false}}}},
{"data":{"name":"one"},"mark":{"type":"rect","color":"#7e57c2","cornerRadius":2},"encoding":{"x":{"datum":{"year":2021,"month":9,"date":21,"hours":14,"minutes":21,"utc":true},"type":"temporal"},"x2":{"datum":{"year":2021,"month":9,"date":23,"hours":2,"minutes":31,"utc":true}},"y":{"datum":51.0,"type":"quantitative"},"y2":{"datum":42.7}}},
{"data":{"name":"one"},"mark":{"type":"text","text":"RSI","color":"#ffffff","fontSize":7.5,"align":"left","baseline":"middle"},"encoding":{"x":{"datum":{"year":2021,"month":9,"date":21,"hours":17,"minutes":14,"utc":true},"type":"temporal"},"y":{"datum":46.9,"type":"quantitative"}}},
{"data":{"name":"one"},"mark":{"type":"text","text":"46.80","color":"#ffffff","fontSize":7.5,"align":"right","baseline":"middle"},"encoding":{"x":{"datum":{"year":2021,"month":9,"date":23,"hours":0,"minutes":20,"utc":true},"type":"temporal"},"y":{"datum":46.9,"type":"quantitative"}}},
{"data":{"name":"one"},"mark":{"type":"text","text":"RSI (14, close)","color":"#d1d4dc","fontSize":8,"align":"left","baseline":"middle"},"encoding":{"x":{"datum":{"year":2021,"month":8,"date":24,"hours":0,"minutes":52,"utc":true},"type":"temporal"},"y":{"datum":88.3,"type":"quantitative"}}}
]}
]
}
